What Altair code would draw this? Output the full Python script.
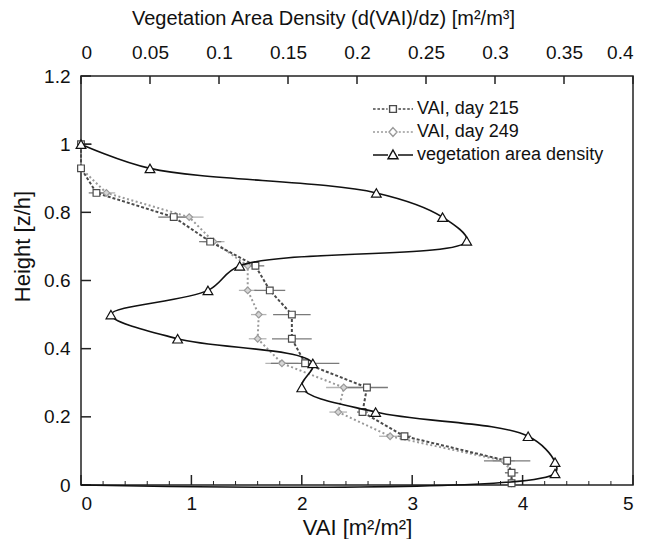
import altair as alt
import pandas as pd

# ---------------- data ----------------
heights = [1.0, 0.929, 0.857, 0.786, 0.714, 0.643, 0.571, 0.5, 0.429, 0.357,
           0.286, 0.214, 0.143, 0.071, 0.036, 0.005]
vai_215 = [0.0, 0.0, 0.14, 0.84, 1.17, 1.58, 1.71, 1.91, 1.91, 2.03,
           2.59, 2.55, 2.93, 3.86, 3.90, 3.90]
err_215 = [0.10, 0.0, 0.07, 0.14, 0.10, 0.08, 0.14, 0.17, 0.18, 0.31,
           0.19, 0.05, 0.06, 0.21, 0.06, 0.03]
vai_249 = [0.0, 0.0, 0.23, 0.98, 1.20, 1.51, 1.51, 1.61, 1.60, 1.82,
           2.38, 2.33, 2.80, 3.83, 3.90, 3.90]
err_249 = [0.05, 0.0, 0.08, 0.13, 0.10, 0.08, 0.08, 0.07, 0.08, 0.15,
           0.16, 0.08, 0.10, 0.10, 0.06, 0.03]

density_heights = [1.0, 0.929, 0.857, 0.786, 0.716, 0.643, 0.571, 0.5, 0.429,
                   0.357, 0.286, 0.214, 0.143, 0.067, 0.034, 0.0]
density = [0.0, 0.05, 0.214, 0.262, 0.2795, 0.115, 0.092, 0.0217, 0.070,
           0.168, 0.160, 0.2135, 0.324, 0.3435, 0.3435, 0.0]

legend_labels = ["VAI, day 215", "VAI, day 249", "vegetation area density"]

vai_ticks = [0, 1, 2, 3, 4, 5]
vai_minor_ticks = [0.2, 0.4, 0.6, 0.8, 1.2, 1.4, 1.6, 1.8, 2.2, 2.4, 2.6, 2.8,
                   3.2, 3.4, 3.6, 3.8, 4.2, 4.4, 4.6, 4.8]
height_ticks = [0, 0.2, 0.4, 0.6, 0.8, 1.0, 1.2]
density_ticks = [0, 0.05, 0.1, 0.15, 0.2, 0.25, 0.3, 0.35, 0.4]

x_title = "VAI [m²/m²]"
y_title = "Height [z/h]"
top_title = "Vegetation Area Density (d(VAI)/dz) [m²/m³]"

# ---------------- styling ----------------
FONT = "Liberation Sans"
W, H = 552, 409
C215, C215_BAR = "#4a4a4a", "#7a7a7a"
C249, C249_BAR, C249_FILL = "#9a9a9a", "#b4b4b4", "#d6d6d6"
CDEN = "#111111"
CAX = "#222222"


def frame(v, e):
    d = pd.DataFrame({"h": heights, "v": v, "e": e})
    d["lo"] = d["v"] - d["e"]
    d["hi"] = d["v"] + d["e"]
    d["i"] = range(len(d))
    return d


df215 = frame(vai_215, err_215)
df249 = frame(vai_249, err_249)
dfden = pd.DataFrame({"h": density_heights, "d": density, "i": range(len(density))})

xscale = alt.Scale(domain=[0, 5], nice=False, zero=False)
yscale = alt.Scale(domain=[0, 1.2], nice=False, zero=False)
dscale = alt.Scale(domain=[0, 0.4], nice=False, zero=False)

common_axis = dict(grid=False, ticks=False, tickSize=0, domain=False,
                   labelFontSize=19, titleFontWeight="normal",
                   labelColor="#111", titleColor="#111", titleBaseline="middle")
xaxis = alt.Axis(orient="bottom", values=vai_ticks, format="d", title=x_title,
                 labelPadding=9, titleFontSize=22, titleY=42, **common_axis)
yaxis = alt.Axis(orient="left", values=height_ticks, format="~g", title=y_title,
                 labelPadding=11, titleFontSize=22, titleX=-59, titleY=170,
                 **common_axis)
taxis = alt.Axis(orient="top", values=density_ticks, format="~g", title=top_title,
                 labelPadding=14, titleFontSize=20, titleX=242, titleY=-58,
                 **common_axis)

X = lambda f: alt.X(f"{f}:Q", scale=xscale, axis=xaxis)
Y = lambda f: alt.Y(f"{f}:Q", scale=yscale, axis=yaxis)
D = lambda f: alt.X(f"{f}:Q", scale=dscale, axis=taxis)


def series_layers(df, line_c, bar_c, dash, shape, fill, size):
    bars = alt.Chart(df).mark_rule(color=bar_c, strokeWidth=1.3, clip=True).encode(
        x=X("lo"), x2="hi", y=Y("h"))
    line = alt.Chart(df).mark_line(color=line_c, strokeWidth=2, strokeDash=dash).encode(
        x=X("v"), y=Y("h"), order="i:Q")
    pts = alt.Chart(df).mark_point(shape=shape, size=size, filled=True, fill=fill,
                                   stroke=line_c, strokeWidth=1.2, opacity=1).encode(
        x=X("v"), y=Y("h"))
    return bars, line, pts


b249, l249, p249 = series_layers(df249, C249, C249_BAR, [2, 2.5], "diamond", C249_FILL, 45)
b215, l215, p215 = series_layers(df215, C215, C215_BAR, [3, 2], "square", "white", 45)

# inward ticks
maj = alt.Chart(pd.DataFrame({"t": vai_ticks})).mark_rule(color=CAX, strokeWidth=1.5).encode(
    x=X("t"), y=alt.value(H), y2=alt.value(H - 10))
mnr = alt.Chart(pd.DataFrame({"t": vai_minor_ticks})).mark_rule(color=CAX, strokeWidth=1).encode(
    x=X("t"), y=alt.value(H), y2=alt.value(H - 4))
ytk = alt.Chart(pd.DataFrame({"t": height_ticks})).mark_rule(color=CAX, strokeWidth=1.5).encode(
    y=Y("t"), x=alt.value(0), x2=alt.value(10))
ttk = alt.Chart(pd.DataFrame({"t": density_ticks})).mark_rule(color=CAX, strokeWidth=1.5).encode(
    x=D("t"), y=alt.value(0), y2=alt.value(8))


# legend symbols: line pattern + marker, drawn as custom symbol paths
def dash_path(a, b, dash, gap):
    out, x = [], a
    while x < b - 1e-9:
        x2 = min(x + dash, b)
        out.append(f"M{x:.3f},0H{x2:.3f}")
        x = x2 + gap
    return "".join(out)


def both_sides(inner, dash, gap):
    left = dash_path(-1.0, -inner, dash, gap)
    right = dash_path(inner, 1.0, dash, gap)
    return left + right


sq = "M-0.17,-0.17H0.17V0.17H-0.17Z"
dm = "M0,-0.22L0.2,0L0,0.22L-0.2,0Z"
tr = "M0,-0.25L0.25,0.19L-0.25,0.19Z"
legend_paths = [
    both_sides(0.27, 0.13, 0.09) + sq,
    both_sides(0.29, 0.10, 0.10) + dm,
    "M-1,0H-0.25M0.25,0H1" + tr,
]
legend_strokes = [C215, C249, CDEN]

leg = alt.Legend(title=None, orient="none", legendX=291, legendY=22.5,
                 symbolSize=1600, symbolStrokeWidth=1.4, clipHeight=21, rowPadding=2,
                 padding=0, labelFontSize=18, labelFont=FONT, labelColor="#111",
                 labelOffset=3, labelLimit=400)
legend_layer = alt.Chart(pd.DataFrame({"series": legend_labels})).mark_point(
    size=1600, filled=False, opacity=1, strokeWidth=1.4).encode(
    x=alt.value(-400), y=alt.value(-400),
    shape=alt.Shape("series:N", scale=alt.Scale(domain=legend_labels, range=legend_paths), legend=leg),
    stroke=alt.Stroke("series:N", scale=alt.Scale(domain=legend_labels, range=legend_strokes), legend=leg),
)

# vegetation area density (top axis)
dline = alt.Chart(dfden).mark_line(color=CDEN, strokeWidth=1.6, interpolate="catmull-rom").encode(
    x=D("d"), y=Y("h"), order="i:Q")
dpts = alt.Chart(dfden).mark_point(shape="triangle-up", size=95, filled=True, fill="white",
                                   stroke=CDEN, strokeWidth=1.2, opacity=1).encode(
    x=D("d"), y=Y("h")).transform_filter("datum.h > 0")

vai_layer = alt.layer(b249, b215, l249, l215, p249, p215, maj, mnr, ytk, legend_layer)
den_layer = alt.layer(dline, dpts, ttk)

chart = alt.layer(vai_layer, den_layer).resolve_scale(x="independent").properties(
    width=W, height=H,
    autosize=alt.AutoSizeParams(type="none"),
    padding={"left": 73, "top": 68, "right": 8, "bottom": 54},
).configure(font=FONT).configure_view(stroke=CAX, strokeWidth=1.5).configure_axis(
    labelFont=FONT, titleFont=FONT)

chart.save("out.html", embed_options={"renderer": "svg", "actions": False})
